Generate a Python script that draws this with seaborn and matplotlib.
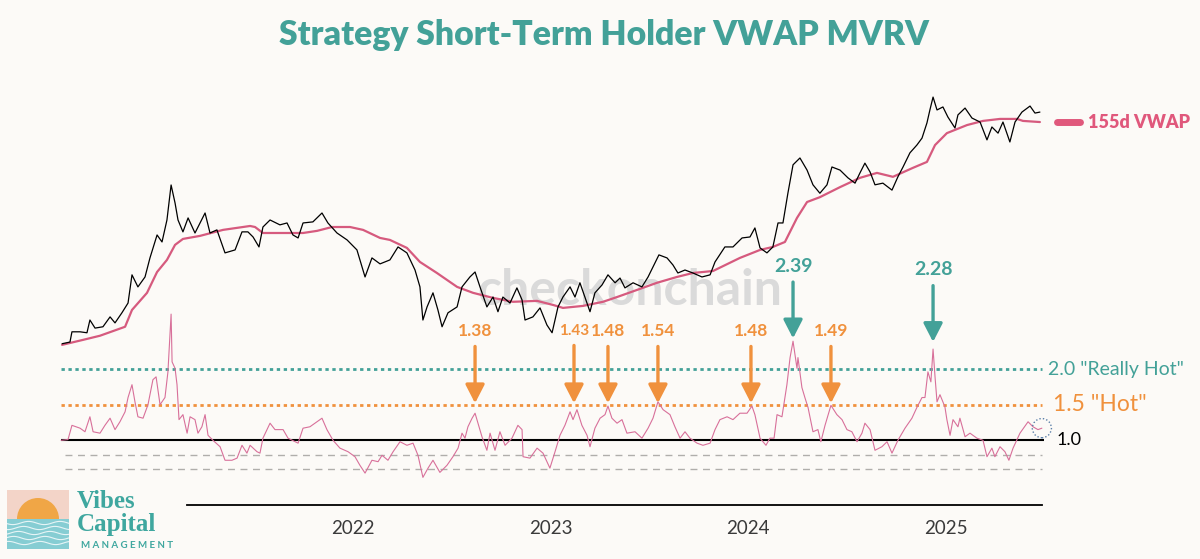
import numpy as np
import pandas as pd
import seaborn as sns
from matplotlib import pyplot as plt
from matplotlib.lines import Line2D
from matplotlib.patches import Rectangle, Wedge

# values, x as decimal years
price_year = [
    2020.527, 2020.567, 2020.577, 2020.618, 2020.653, 2020.668, 2020.694, 2020.734, 2020.770, 2020.795,
    2020.830, 2020.861, 2020.881, 2020.911, 2020.947, 2020.972, 2021.008, 2021.033, 2021.058, 2021.079,
    2021.099, 2021.114, 2021.139, 2021.165, 2021.200, 2021.251, 2021.276, 2021.311, 2021.352, 2021.403,
    2021.438, 2021.468, 2021.494, 2021.524, 2021.544, 2021.580, 2021.630, 2021.666, 2021.696, 2021.722,
    2021.747, 2021.797, 2021.843, 2021.873, 2021.919, 2021.970, 2022.020, 2022.061, 2022.096, 2022.137,
    2022.187, 2022.228, 2022.273, 2022.314, 2022.339, 2022.354, 2022.375, 2022.405, 2022.430, 2022.451,
    2022.481, 2022.527, 2022.552, 2022.592, 2022.618, 2022.643, 2022.678, 2022.709, 2022.734, 2022.759,
    2022.795, 2022.830, 2022.856, 2022.871, 2022.911, 2022.947, 2022.982, 2023.008, 2023.038, 2023.063,
    2023.099, 2023.124, 2023.149, 2023.200, 2023.225, 2023.261, 2023.291, 2023.327, 2023.352, 2023.377,
    2023.418, 2023.463, 2023.494, 2023.519, 2023.549, 2023.590, 2023.620, 2023.645, 2023.681, 2023.721,
    2023.767, 2023.808, 2023.833, 2023.883, 2023.924, 2023.970, 2024.010, 2024.035, 2024.061, 2024.096,
    2024.126, 2024.152, 2024.177, 2024.202, 2024.228, 2024.263, 2024.299, 2024.329, 2024.364, 2024.400,
    2024.425, 2024.466, 2024.506, 2024.542, 2024.567, 2024.592, 2024.618, 2024.643, 2024.683, 2024.729,
    2024.759, 2024.785, 2024.820, 2024.855, 2024.881, 2024.906, 2024.921, 2024.937, 2024.957, 2024.987,
    2025.012, 2025.048, 2025.063, 2025.099, 2025.134, 2025.175, 2025.210, 2025.235, 2025.266, 2025.291,
    2025.326, 2025.352, 2025.387, 2025.428, 2025.453, 2025.478,
]
price = [
    12.2, 12.5, 14.5, 14.5, 14.3, 17.2, 15.3, 15.6, 18.0, 16.5,
    19.1, 22.0, 33.1, 27.8, 32.1, 42.3, 59.0, 53.3, 73.3, 121.7,
    93.8, 73.3, 61.7, 75.5, 60.7, 81.1, 60.7, 63.5, 45.5, 47.5,
    61.7, 61.7, 57.3, 49.6, 66.2, 73.3, 68.3, 70.2, 59.0, 56.5,
    70.2, 71.3, 81.1, 70.2, 60.7, 54.9, 47.5, 32.1, 42.3, 38.8,
    41.1, 49.6, 45.5, 35.5, 27.8, 17.2, 20.8, 25.5, 19.9, 15.6,
    19.1, 20.8, 27.8, 32.1, 34.5, 27.8, 20.8, 24.0, 19.4, 24.0,
    22.0, 27.4, 23.0, 17.2, 18.0, 20.5, 16.0, 14.3, 20.8, 24.0,
    27.8, 24.0, 29.5, 19.4, 25.5, 28.6, 33.1, 29.5, 31.6, 27.4,
    29.5, 27.8, 32.1, 37.1, 44.2, 42.3, 38.2, 34.0, 35.5, 34.0,
    32.1, 33.1, 39.9, 49.6, 49.6, 56.5, 57.3, 65.3, 48.9, 45.5,
    49.6, 70.2, 70.2, 108, 163, 180, 151, 122, 108, 122,
    158, 151, 135, 125, 145, 167, 147, 122, 125, 113,
    137, 158, 194, 217, 240, 299, 361, 435, 361, 377,
    326, 278, 336, 371, 321, 303, 234, 282, 258, 303,
    227, 303, 350, 382, 345, 350,
]

vwap_year = [
    2020.527, 2020.633, 2020.719, 2020.846, 2020.881, 2020.957, 2021.008, 2021.058, 2021.099, 2021.139,
    2021.225, 2021.342, 2021.479, 2021.504, 2021.544, 2021.646, 2021.747, 2021.818, 2021.894, 2021.985,
    2022.051, 2022.137, 2022.187, 2022.273, 2022.339, 2022.425, 2022.527, 2022.608, 2022.709, 2022.810,
    2022.932, 2023.013, 2023.063, 2023.164, 2023.266, 2023.337, 2023.438, 2023.539, 2023.640, 2023.721,
    2023.823, 2023.959, 2024.061, 2024.126, 2024.187, 2024.248, 2024.299, 2024.364, 2024.466, 2024.567,
    2024.653, 2024.734, 2024.835, 2024.906, 2024.947, 2025.007, 2025.109, 2025.190, 2025.276, 2025.362,
    2025.392, 2025.478,
]
vwap = [
    12.0, 12.9, 13.7, 15.6, 19.9, 25.5, 34.5, 41.1, 51.1, 55.7,
    58.2, 63.5, 67.2, 66.2, 60.7, 60.7, 60.7, 62.6, 66.2, 66.2,
    63.5, 56.5, 54.9, 48.9, 39.9, 34.0, 27.8, 25.5, 23.7, 22.4,
    22.7, 21.4, 20.5, 21.1, 22.4, 24.0, 26.6, 29.5, 32.1, 34.0,
    35.0, 42.3, 47.5, 49.6, 53.3, 75.5, 95.1, 102, 118, 135,
    145, 137, 156, 170, 217, 258, 290, 308, 317, 317,
    308, 303,
]

mvrv_year = [
    2020.522, 2020.557, 2020.577, 2020.618, 2020.643, 2020.668, 2020.684, 2020.719, 2020.744, 2020.770,
    2020.795, 2020.820, 2020.846, 2020.861, 2020.881, 2020.896, 2020.911, 2020.937, 2020.962, 2020.987,
    2021.003, 2021.023, 2021.048, 2021.063, 2021.079, 2021.084, 2021.099, 2021.109, 2021.119, 2021.139,
    2021.160, 2021.175, 2021.200, 2021.215, 2021.235, 2021.251, 2021.266, 2021.291, 2021.327, 2021.352,
    2021.387, 2021.413, 2021.438, 2021.463, 2021.479, 2021.514, 2021.529, 2021.544, 2021.580, 2021.605,
    2021.646, 2021.671, 2021.722, 2021.747, 2021.782, 2021.843, 2021.868, 2021.899, 2021.934, 2021.975,
    2022.010, 2022.035, 2022.061, 2022.096, 2022.127, 2022.147, 2022.177, 2022.203, 2022.238, 2022.273,
    2022.304, 2022.329, 2022.354, 2022.380, 2022.405, 2022.440, 2022.476, 2022.506, 2022.532, 2022.552,
    2022.567, 2022.582, 2022.603, 2022.618, 2022.633, 2022.653, 2022.678, 2022.694, 2022.719, 2022.744,
    2022.770, 2022.805, 2022.835, 2022.856, 2022.861, 2022.896, 2022.932, 2022.962, 2022.997, 2023.023,
    2023.048, 2023.073, 2023.099, 2023.114, 2023.134, 2023.159, 2023.185, 2023.200, 2023.225, 2023.251,
    2023.276, 2023.291, 2023.311, 2023.337, 2023.362, 2023.387, 2023.428, 2023.463, 2023.494, 2023.519,
    2023.544, 2023.570, 2023.605, 2023.630, 2023.656, 2023.681, 2023.706, 2023.742, 2023.772, 2023.808,
    2023.833, 2023.858, 2023.894, 2023.924, 2023.959, 2023.995, 2024.020, 2024.035, 2024.061, 2024.091,
    2024.111, 2024.132, 2024.147, 2024.172, 2024.197, 2024.213, 2024.228, 2024.248, 2024.253, 2024.273,
    2024.288, 2024.304, 2024.329, 2024.354, 2024.369, 2024.390, 2024.420, 2024.450, 2024.476, 2024.501,
    2024.526, 2024.552, 2024.577, 2024.592, 2024.618, 2024.643, 2024.678, 2024.704, 2024.729, 2024.759,
    2024.795, 2024.830, 2024.855, 2024.881, 2024.896, 2024.911, 2024.926, 2024.937, 2024.947, 2024.957,
    2024.972, 2024.997, 2025.007, 2025.023, 2025.038, 2025.063, 2025.073, 2025.099, 2025.124, 2025.159,
    2025.190, 2025.210, 2025.235, 2025.250, 2025.276, 2025.301, 2025.321, 2025.342, 2025.377, 2025.418,
    2025.443, 2025.468, 2025.488,
]
mvrv = [
    1.00, 1.01, 1.21, 1.17, 1.12, 1.33, 1.12, 1.10, 1.21, 1.31,
    1.15, 1.26, 1.40, 1.60, 1.78, 1.54, 1.33, 1.31, 1.50, 1.85,
    1.89, 1.50, 1.60, 1.96, 2.77, 2.10, 2.01, 1.78, 1.29, 1.36,
    1.10, 1.33, 1.29, 1.10, 1.19, 1.36, 1.07, 1.00, 0.91, 0.72,
    0.72, 0.75, 0.93, 0.82, 0.93, 0.84, 0.82, 1.03, 1.24, 1.15,
    1.15, 1.03, 0.96, 1.17, 1.19, 1.31, 1.15, 1.00, 0.89, 0.84,
    0.77, 0.65, 0.54, 0.72, 0.70, 0.79, 0.72, 0.84, 0.98, 0.93,
    0.96, 0.79, 0.48, 0.61, 0.72, 0.55, 0.65, 0.77, 0.89, 1.10,
    1.03, 1.19, 1.31, 1.38, 1.24, 1.05, 0.86, 1.10, 0.86, 1.12,
    0.93, 1.03, 1.21, 1.15, 0.77, 0.75, 0.89, 0.82, 0.61, 0.84,
    1.07, 1.21, 1.40, 1.29, 1.43, 1.21, 1.07, 0.91, 1.17, 1.31,
    1.36, 1.48, 1.31, 1.24, 1.29, 1.10, 1.12, 1.03, 1.17, 1.31,
    1.54, 1.43, 1.36, 1.19, 1.03, 1.12, 1.03, 0.96, 0.93, 0.96,
    1.15, 1.29, 1.33, 1.29, 1.38, 1.38, 1.48, 1.36, 1.03, 0.93,
    1.03, 1.03, 1.36, 1.33, 1.78, 2.16, 2.39, 2.01, 2.16, 1.74,
    1.60, 1.46, 1.12, 1.15, 0.98, 1.21, 1.49, 1.36, 1.29, 1.15,
    1.12, 0.98, 1.10, 1.24, 1.15, 0.86, 0.91, 0.98, 0.82, 1.00,
    1.17, 1.31, 1.46, 1.60, 1.60, 1.96, 1.82, 2.28, 1.89, 1.54,
    1.64, 1.47, 1.29, 1.07, 1.29, 1.19, 1.31, 1.05, 1.10, 1.03,
    1.00, 0.77, 0.89, 0.77, 0.91, 0.84, 0.72, 0.89, 1.10, 1.26,
    1.19, 1.15, 1.17,
]

# called-out peaks
peak_year = [2022.618, 2023.119, 2023.291, 2023.544, 2024.015, 2024.420, 2024.228, 2024.937]
peak_label = ["1.38", "1.43", "1.48", "1.54", "1.48", "1.49", "2.39", "2.28"]
peak_tip = [1.52, 1.52, 1.52, 1.52, 1.52, 1.52, 2.43, 2.38]

levels = [2.0, 1.5, 1.0]
level_labels = ['2.0 "Really Hot"', '1.5 "Hot"', "1.0"]
band_levels = [0.8, 0.6]
years = [2022, 2023, 2024, 2025]

BG = "#fcfaf7"
TEAL = "#43a198"
ORANGE = "#f0913d"
PINK = "#d65a7e"

top_df = pd.DataFrame({"year": price_year, "price": price})
vwap_df = pd.DataFrame({"year": vwap_year, "vwap": vwap})
osc_df = pd.DataFrame({"year": mvrv_year, "mvrv": mvrv})

sns.set_theme(style="white")
plt.rcParams["font.family"] = ["Lato", "DejaVu Sans"]

W, H = 1200, 559
fig = plt.figure(figsize=(W / 100, H / 100), dpi=100)
fig.patch.set_facecolor(BG)

xlim = (2020.5165, 2025.5038)

# price + VWAP panel (log)
ax_top = fig.add_axes([60 / W, 1 - 350 / H, 985 / W, 260 / H])
ax_top.set_facecolor("none")
ax_top.set_yscale("log")
ax_top.text(0.578, 0.23, "checkonchain", transform=ax_top.transAxes, ha="center", va="center",
            fontsize=36, weight="bold", color="#dadada", zorder=0)
sns.lineplot(data=top_df, x="year", y="price", ax=ax_top, color="black", lw=0.9,
             estimator=None, sort=False, zorder=3)
sns.lineplot(data=vwap_df, x="year", y="vwap", ax=ax_top, color=PINK, lw=1.6,
             estimator=None, sort=False, zorder=2)
ax_top.set_xlim(*xlim)
ax_top.set_ylim(11.14, 482)
ax_top.axis("off")

# MVRV oscillator panel
ax_bot = fig.add_axes([60 / W, 1 - 505 / H, 985 / W, 205 / H])
ax_bot.set_facecolor("none")
x0, x1 = mvrv_year[0], mvrv_year[-1]
ax_bot.hlines(levels[0], x0, x1, color=TEAL, lw=2, linestyles=(0, (1.2, 1.3)), zorder=1)
ax_bot.hlines(levels[1], x0, x1, color=ORANGE, lw=2, linestyles=(0, (1.2, 1.3)), zorder=1)
ax_bot.hlines(levels[2], x0, x1 + 0.01, color="black", lw=1.5, zorder=1)
for lv in band_levels:
    ax_bot.hlines(lv, x0 + 0.02, x1, color="#b0aeab", lw=1, linestyles=(0, (5, 4)), zorder=1)
sns.lineplot(data=osc_df, x="year", y="mvrv", ax=ax_bot, color="#d8709a", lw=0.8,
             estimator=None, sort=False, zorder=3)
ax_bot.scatter([mvrv_year[-1]], [mvrv[-1]], s=190, facecolors="none", edgecolors="#5b7fa8",
               linewidths=1, linestyles=(0, (1, 1.5)), zorder=4, clip_on=False)

ytr = ax_bot.get_yaxis_transform()
ax_bot.text(1.003, levels[0], level_labels[0], transform=ytr, color=TEAL, fontsize=14, va="center")
ax_bot.text(1.008, levels[1], level_labels[1], transform=ytr, color=ORANGE, fontsize=16.5, va="center")
ax_bot.text(1.012, levels[2], level_labels[2], transform=ytr, color="black", fontsize=13, va="center")

for yr, lab, tip in zip(peak_year, peak_label, peak_tip):
    teal = tip > 2
    col = TEAL if teal else ORANGE
    size = 14 if teal else (11 if lab == "1.43" else 12.5)
    ax_bot.annotate(lab, xy=(yr, tip), xytext=(0, 52), textcoords="offset points",
                    ha="center", va="center", fontsize=size, weight="bold", color=col,
                    annotation_clip=False,
                    arrowprops=dict(arrowstyle="-|>,head_length=0.7,head_width=0.36",
                                    mutation_scale=16, lw=2.4, color=col,
                                    shrinkA=3, shrinkB=0))

ax_bot.set_xlim(*xlim)
ax_bot.set_ylim(0.0926, 2.968)
for s in ["top", "left", "right"]:
    ax_bot.spines[s].set_visible(False)
ax_bot.spines["bottom"].set_color("black")
ax_bot.spines["bottom"].set_linewidth(1.3)
ax_bot.spines["bottom"].set_bounds(2021.16, 2025.49)
ax_bot.set_xticks(years)
ax_bot.set_xticklabels([str(y) for y in years], fontsize=13.5, color="#3a3a3a")
ax_bot.tick_params(axis="x", length=0, pad=11)
ax_bot.set_yticks([])
ax_bot.set_xlabel("")
ax_bot.set_ylabel("")

# title and legend
fig.text(0.503, 1 - 35 / H, "Strategy Short-Term Holder VWAP MVRV", ha="center", va="center",
         fontsize=24.3, weight="heavy", color=TEAL)
fig.add_artist(Line2D([1057 / W, 1080 / W], [1 - 122 / H] * 2, lw=5, color="#e0587c"))
fig.text(1088 / W, 1 - 122 / H, "155d VWAP", va="center", fontsize=13, weight="heavy", color="#e0587c")

# logo
lg = fig.add_axes([5 / W, 1 - 552 / H, 180 / W, 64 / H])
lg.set_xlim(0, 180)
lg.set_ylim(64, 0)
lg.axis("off")
lg.add_patch(Rectangle((2, 2), 62, 29, color="#f3d4c8", lw=0))
lg.add_patch(Wedge((33, 31), 21, 180, 360, color="#f0a646", lw=0))
lg.add_patch(Rectangle((2, 31), 62, 30, color="#86cdd3", lw=0))
wx = np.linspace(2, 64, 60)
for k, yy in enumerate([35, 40, 45, 50, 55]):
    lg.plot(wx, yy + 1.6 * np.sin(wx / 5 + k), color="white", lw=0.8, alpha=0.8)
serif = ["Liberation Serif", "DejaVu Serif"]
lg.text(72, 13, "Vibes", family=serif, fontsize=18, weight="bold",
        color="#3fa79f", va="center", ha="left")
lg.text(72, 36, "Capital", family=serif, fontsize=18, weight="bold",
        color="#3fa79f", va="center", ha="left")
lg.text(76, 57, "M A N A G E M E N T", fontsize=7, weight="bold", color="#3fa79f",
        va="center", ha="left")

fig.savefig("out.png", dpi=100, facecolor=BG)
